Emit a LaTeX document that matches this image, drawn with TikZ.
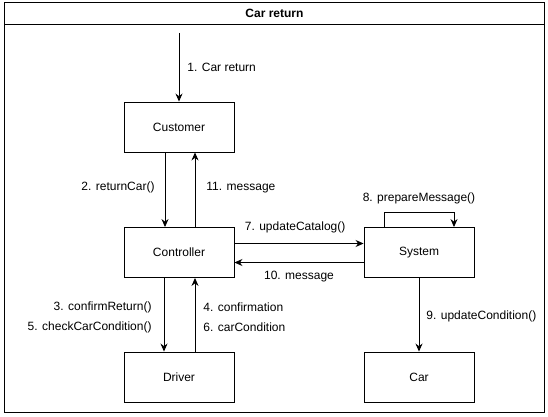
\documentclass[tikz,border=0pt]{standalone}
\usepackage{fontspec}
\setmainfont{Liberation Sans}
\usetikzlibrary{arrows.meta, positioning}

\begin{document}
\begin{tikzpicture}[
  x=1pt, y=-1pt,
  font=\fontsize{12}{14}\selectfont,
  >={Stealth[length=8pt, width=7pt]},
  line width=0.9pt,
  obj/.style={draw, minimum width=110pt, minimum height=50pt, inner sep=0pt},
  lbl/.style={inner sep=0pt}
]
\useasboundingbox (0,0) rectangle (548,417);
% frame with its title bar
\draw (4,2) rectangle (544,412);
\node[draw, anchor=north west, minimum width=540pt, minimum height=22pt, inner sep=0pt,
      font=\fontsize{12}{14}\selectfont\bfseries] (title) at (4,2) {Car return};
\node[obj] (cust) at (179,127)   {Customer};
\node[obj] (ctrl) at (179,252.5) {Controller};
\node[obj] (drv)  at (179,377)   {Driver};
\node[obj] (sys)  at (419,252.5) {System};
\node[obj] (car)  at (419,377)   {Car};
\coordinate (entry) at (179,33);
% messages
\draw[->] (entry) -- node[lbl, right=8pt] {1. Car return} (cust);
\draw[->] ([xshift=-14pt]cust.south) -- node[lbl, left=10pt, yshift=2pt] {2. returnCar()} ([xshift=-14pt]ctrl.north);
\draw[->] ([xshift=16pt]ctrl.north) -- node[lbl, right=11pt, yshift=2pt] {11. message} ([xshift=16pt]cust.south);
\draw[->] ([xshift=-15pt]ctrl.south) -- node[lbl, left=12pt, yshift=-3pt, align=right]
      {3. confirmReturn()\\[6pt]5. checkCarCondition()} ([xshift=-15pt]drv.north);
\draw[->] ([xshift=16pt]drv.north) -- node[lbl, right=8pt, yshift=-2pt, align=left]
      {4. confirmation\\[6pt]6. carCondition} ([xshift=16pt]ctrl.south);
\draw[->] ([yshift=9pt]ctrl.east) -- node[lbl, pos=0.47, above=10pt] {7. updateCatalog()} ([yshift=9pt]sys.west);
\draw[->] ([yshift=-10pt]sys.west) -- node[lbl, below=8pt] {10. message} ([yshift=-10pt]ctrl.east);
\draw[->] ([xshift=-35pt]sys.north) -- ++(0,-15) -| node[lbl, pos=0.25, above=8pt]
      {8. prepareMessage()} ([xshift=35pt]sys.north);
\draw[->] (sys) -- node[lbl, right=7pt, yshift=-2pt] {9. updateCondition()} (car);
\end{tikzpicture}
\end{document}
